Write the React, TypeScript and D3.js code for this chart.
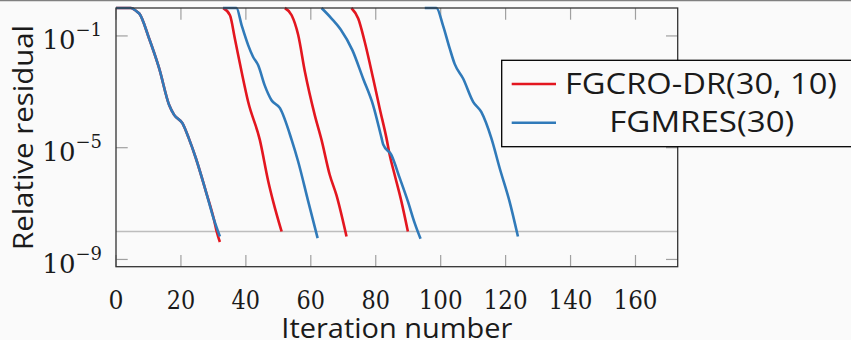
import * as d3 from 'd3';

type Pt = [number, number]; // [iteration, relative residual]

const xTicks = [0, 20, 40, 60, 80, 100, 120, 140, 160];
const yTicks = [1e-1, 1e-5, 1e-9];
const yTickExp = ['−1', '−5', '−9'];
const tolerance = 1e-8;

const seriesNames = ['FGCRO-DR(30, 10)', 'FGMRES(30)'];

// one run per linear system in the sequence
const fgcroRuns: Pt[][] = [
  [[0, 1], [4.6, 1], [6.2, 7.8e-1], [7.2, 6.3e-1], [10.2, 8.1e-2], [13.3, 6.9e-3], [16.4, 3.3e-4], [17.9, 1.5e-4], [20.5, 7.4e-5], [22.4, 2.2e-5], [24.6, 4.2e-6], [27.7, 2.7e-7], [30.2, 2.6e-8], [31, 1.0e-8], [32, 4.2e-9]],
  [[33, 1], [35.1, 5.5e-1], [36.6, 8.1e-2], [38.7, 5.1e-3], [40.7, 4.4e-4], [44.3, 1.9e-5], [46.9, 6.2e-7], [48.4, 1.2e-7], [51.0, 1.0e-8]],
  [[52, 1], [54.1, 5.5e-1], [56.1, 1.1e-1], [58.2, 5.1e-3], [61.2, 1.5e-4], [63.3, 1.9e-5], [65.8, 1.1e-6], [67.9, 2.0e-7], [71.0, 6.6e-9]],
  [[72.5, 1], [74.6, 4.2e-1], [76.6, 6.2e-2], [79.2, 3.0e-3], [81.2, 2.6e-4], [83.3, 2.2e-5], [84.3, 5.5e-6], [85.8, 1.1e-6], [87.9, 1.2e-7], [89.9, 1.0e-8]],
];

const fgmresRuns: Pt[][] = [
  [[0, 1], [4.6, 1], [6.2, 7.8e-1], [7.2, 6.3e-1], [10.2, 8.1e-2], [13.3, 6.9e-3], [16.4, 3.3e-4], [17.9, 1.5e-4], [20.5, 7.4e-5], [22.4, 2.2e-5], [24.6, 4.2e-6], [27.7, 2.7e-7], [30.2, 2.6e-8], [32, 6.6e-9]],
  [[33, 1], [37.1, 1], [38.7, 2.4e-1], [40.7, 4.7e-2], [42.2, 1.8e-2], [43.8, 8.9e-3], [45.8, 1.7e-3], [47.9, 5.0e-4], [50.5, 2.6e-4], [54.1, 1.9e-5], [56.1, 3.2e-6], [59.2, 1.2e-7], [62.1, 5.8e-9]],
  [[63.3, 1], [66.4, 4.2e-1], [69.2, 1.7e-1], [72.8, 3.1e-2], [76.1, 3.0e-3], [79.2, 3.3e-4], [81.8, 2.2e-5], [82.3, 1.3e-5], [84.8, 5.5e-6], [87.4, 8.1e-7], [89.9, 1.2e-7], [92.0, 2.0e-8], [93.8, 5.5e-9]],
  [[95.1, 1], [98.7, 1], [100.7, 2.4e-1], [102.8, 3.5e-2], [104.3, 1.0e-2], [106.9, 3.0e-3], [110.0, 4.4e-4], [112.5, 1.9e-4], [115.6, 2.2e-5], [118.2, 1.8e-6], [121.2, 1.2e-7], [123.8, 6.6e-9]],
];

const RED = '#e3161f';
const BLUE = '#307ab9';
const BG = '#fafafa';

const width = 851;
const height = 340;
const plot = { left: 116, top: 8, right: 677.7, bottom: 266.7 };

const serif = "'DejaVu Serif', 'Liberation Serif', serif";
const sans = "'Open Sans', 'DejaVu Sans', sans-serif";

export default function App() {
  const x = d3.scaleLinear().domain([0, 173]).range([plot.left, plot.right]);
  const y = d3.scaleLog().domain([5.5e-10, 1]).range([plot.bottom, plot.top]);

  const line = d3
    .line<Pt>()
    .x((d) => x(d[0]))
    .y((d) => y(d[1]))
    .curve(d3.curveMonotoneX);

  const tickLen = 11.7;
  const midX = (plot.left + plot.right) / 2;

  return (
    <svg width={width} height={height} style={{ position: 'absolute', left: 0, top: 0 }}>
      <rect width={width} height={height} fill={BG} />
      <line x1={0} x2={width} y1={0.5} y2={0.5} stroke="#808080" strokeWidth={1.5} />

      {/* tolerance line */}
      <line x1={plot.left} x2={plot.right} y1={y(tolerance)} y2={y(tolerance)} stroke="#bdbdbd" strokeWidth={1.5} />

      {/* ticks */}
      {xTicks.map((t) => (
        <g key={`xt${t}`} stroke="#a0a0a0" strokeWidth={1.2}>
          <line x1={x(t)} x2={x(t)} y1={plot.bottom} y2={plot.bottom - tickLen} />
          <line x1={x(t)} x2={x(t)} y1={plot.top} y2={plot.top + tickLen} />
        </g>
      ))}
      {yTicks.map((t) => (
        <g key={`yt${t}`} stroke="#a0a0a0" strokeWidth={1.2}>
          <line x1={plot.left} x2={plot.left + tickLen} y1={y(t)} y2={y(t)} />
          <line x1={plot.right} x2={plot.right - tickLen} y1={y(t)} y2={y(t)} />
        </g>
      ))}

      {/* curves */}
      {fgcroRuns.map((run, i) => (
        <path key={`r${i}`} d={line(run)!} fill="none" stroke={RED} strokeWidth={2.6} strokeLinejoin="round" />
      ))}
      {fgmresRuns.map((run, i) => (
        <path key={`b${i}`} d={line(run)!} fill="none" stroke={BLUE} strokeWidth={2.6} strokeLinejoin="round" />
      ))}

      {/* frame */}
      <rect
        x={plot.left}
        y={plot.top}
        width={plot.right - plot.left}
        height={plot.bottom - plot.top}
        fill="none"
        stroke="#333"
        strokeWidth={1.3}
      />

      {/* tick labels */}
      {xTicks.map((t) => (
        <text key={`xl${t}`} x={x(t)} y={309} textAnchor="middle" fontFamily={serif} fontSize={26} fill="#1a1a1a"
          textLength={t === 0 ? 15 : t < 100 ? 28.5 : 44} lengthAdjust="spacingAndGlyphs">
          {t}
        </text>
      ))}
      {yTicks.map((t, i) => (
        <text key={`yl${t}`} x={102} y={y(t) + 13.5} textAnchor="end" fontFamily={serif} fill="#1a1a1a">
          <tspan fontSize={26}>10</tspan>
          <tspan fontSize={18} dy={-13}>
            {yTickExp[i]}
          </tspan>
        </text>
      ))}

      {/* axis titles */}
      <text
        x={midX}
        y={337.5}
        textAnchor="middle"
        fontFamily={sans}
        fontSize={28}
        fill="#1a1a1a"
        textLength={231}
        lengthAdjust="spacingAndGlyphs"
      >
        Iteration number
      </text>
      <text
        transform={`translate(33, 137.5) rotate(-90)`}
        textAnchor="middle"
        fontFamily={sans}
        fontSize={28}
        fill="#1a1a1a"
        textLength={225}
        lengthAdjust="spacingAndGlyphs"
      >
        Relative residual
      </text>

      {/* legend */}
      <g>
        <rect x={501.7} y={60.3} width={360} height={86.4} fill={BG} stroke="#000" strokeWidth={1.3} />
        <line x1={511.7} x2={556} y1={84} y2={84} stroke={RED} strokeWidth={2.6} />
        <line x1={511.7} x2={556} y1={122.7} y2={122.7} stroke={BLUE} strokeWidth={2.6} />
        <text x={701} y={94} textAnchor="middle" fontFamily={sans} fontSize={29} fill="#1a1a1a" textLength={272} lengthAdjust="spacingAndGlyphs">
          {seriesNames[0]}
        </text>
        <text x={701.8} y={132} textAnchor="middle" fontFamily={sans} fontSize={29} fill="#1a1a1a" textLength={185} lengthAdjust="spacingAndGlyphs">
          {seriesNames[1]}
        </text>
      </g>
    </svg>
  );
}
